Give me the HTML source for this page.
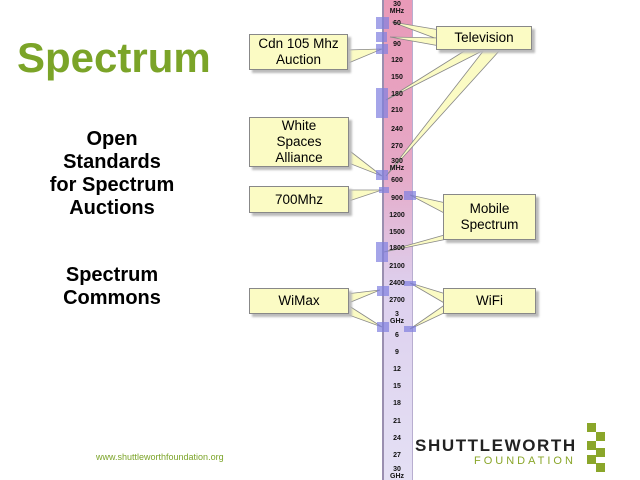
<!DOCTYPE html>
<html><head><style>
body{margin:0;width:640px;height:480px;background:#fff;position:relative;overflow:hidden;font-family:"Liberation Sans",sans-serif}
.t{position:absolute;text-align:center;font-weight:bold;color:#000}
.box{position:absolute;background:#fbfbc4;border:1px solid #888;box-shadow:3px 3px 2px #bbb;font-size:13.5px;text-align:center;line-height:16px;display:flex;align-items:center;justify-content:center;box-sizing:border-box}
.lbl{position:absolute;left:383px;width:28px;text-align:center;font:bold 7px "Liberation Sans Narrow","Liberation Sans",sans-serif;line-height:7px;color:#111}
</style></head><body>
<div class="t" style="left:17px;top:34px;font-size:42px;color:#7ba428;text-align:left">Spectrum</div>
<div class="t" style="left:27px;top:128px;width:170px;font-size:20px;line-height:23px">Open<br>Standards<br>for Spectrum<br>Auctions</div>
<div class="t" style="left:27px;top:264px;width:170px;font-size:20px;line-height:23px">Spectrum<br>Commons</div>
<div style="position:absolute;left:96px;top:452px;font-size:9px;color:#7ba428">www.shuttleworthfoundation.org</div>

<div style="position:absolute;left:382px;top:0;width:28px;height:480px;background:linear-gradient(#e99ab8,#e6a8c6 35%,#ddd0ee 60%,#e4e0f4);border-left:2px solid #9a8fb0;border-right:1px solid #b8aed0"></div>

<svg width="640" height="480" style="position:absolute;left:0;top:0">
<g fill="#fbfbc4" stroke="#888" stroke-width="0.8">
<polygon points="440,30 392,22 440,40"/>
<polygon points="440,38 390,37 440,46"/>
<polygon points="466,50 386,100 484,50"/>
<polygon points="484,50 386,176 500,50"/>
<polygon points="346,50 382,49 346,64"/>
<polygon points="346,148 382,176 346,162"/>
<polygon points="346,190 382,190 346,202"/>
<polygon points="446,203 410,195 446,214"/>
<polygon points="448,234 384,252 462,236"/>
<polygon points="346,294 380,290 346,304"/>
<polygon points="346,304 382,327 346,314"/>
<polygon points="446,294 410,283 446,304"/>
<polygon points="446,304 410,329 446,312"/>
</g>
<g fill="#7f7fe0" fill-opacity="0.7">
<rect x="376" y="17" width="13" height="12"/><rect x="376" y="32" width="11" height="10"/><rect x="376" y="44" width="12" height="10"/>
<rect x="376" y="88" width="12" height="30"/><rect x="376" y="170" width="12" height="10"/><rect x="379" y="187" width="10" height="6"/>
<rect x="404" y="191" width="12" height="9"/><rect x="376" y="242" width="12" height="20"/><rect x="377" y="286" width="12" height="10"/>
<rect x="404" y="281" width="12" height="5"/><rect x="377" y="322" width="12" height="10"/><rect x="404" y="326" width="12" height="6"/>
</g>
<g fill="#8aa62a">
<rect x="587" y="423" width="9" height="9"/><rect x="596" y="432" width="9" height="9"/><rect x="587" y="441" width="9" height="9"/>
<rect x="596" y="448" width="9" height="9"/><rect x="587" y="455" width="9" height="9"/><rect x="596" y="463" width="9" height="9"/>
</g>
</svg>

<div class="box" style="left:249px;top:34px;width:99px;height:36px">Cdn 105 Mhz<br>Auction</div>
<div class="box" style="left:436px;top:26px;width:96px;height:24px">Television</div>
<div class="box" style="left:249px;top:117px;width:100px;height:50px">White<br>Spaces<br>Alliance</div>
<div class="box" style="left:249px;top:186px;width:100px;height:27px">700Mhz</div>
<div class="box" style="left:443px;top:194px;width:93px;height:46px">Mobile<br>Spectrum</div>
<div class="box" style="left:249px;top:288px;width:100px;height:26px">WiMax</div>
<div class="box" style="left:443px;top:288px;width:93px;height:26px">WiFi</div>

<div class="lbl" style="top:1px">30<br>MHz</div>
<div class="lbl" style="top:20px">60</div><div class="lbl" style="top:41px">90</div>
<div class="lbl" style="top:57px">120</div><div class="lbl" style="top:74px">150</div>
<div class="lbl" style="top:91px">180</div><div class="lbl" style="top:107px">210</div>
<div class="lbl" style="top:126px">240</div><div class="lbl" style="top:143px">270</div>
<div class="lbl" style="top:158px">300<br>MHz</div><div class="lbl" style="top:177px">600</div>
<div class="lbl" style="top:195px">900</div><div class="lbl" style="top:212px">1200</div>
<div class="lbl" style="top:229px">1500</div><div class="lbl" style="top:245px">1800</div>
<div class="lbl" style="top:263px">2100</div><div class="lbl" style="top:280px">2400</div>
<div class="lbl" style="top:297px">2700</div><div class="lbl" style="top:311px">3<br>GHz</div>
<div class="lbl" style="top:332px">6</div><div class="lbl" style="top:349px">9</div>
<div class="lbl" style="top:366px">12</div><div class="lbl" style="top:383px">15</div>
<div class="lbl" style="top:400px">18</div><div class="lbl" style="top:418px">21</div>
<div class="lbl" style="top:435px">24</div><div class="lbl" style="top:452px">27</div>
<div class="lbl" style="top:466px">30<br>GHz</div>

<div style="position:absolute;left:415px;top:436px;font:bold 17px 'Liberation Sans',sans-serif;letter-spacing:1.6px;color:#222">SHUTTLEWORTH</div>
<div style="position:absolute;left:474px;top:455px;font:11px 'Liberation Sans',sans-serif;letter-spacing:3px;color:#8aa62a">FOUNDATION</div>
</body></html>
